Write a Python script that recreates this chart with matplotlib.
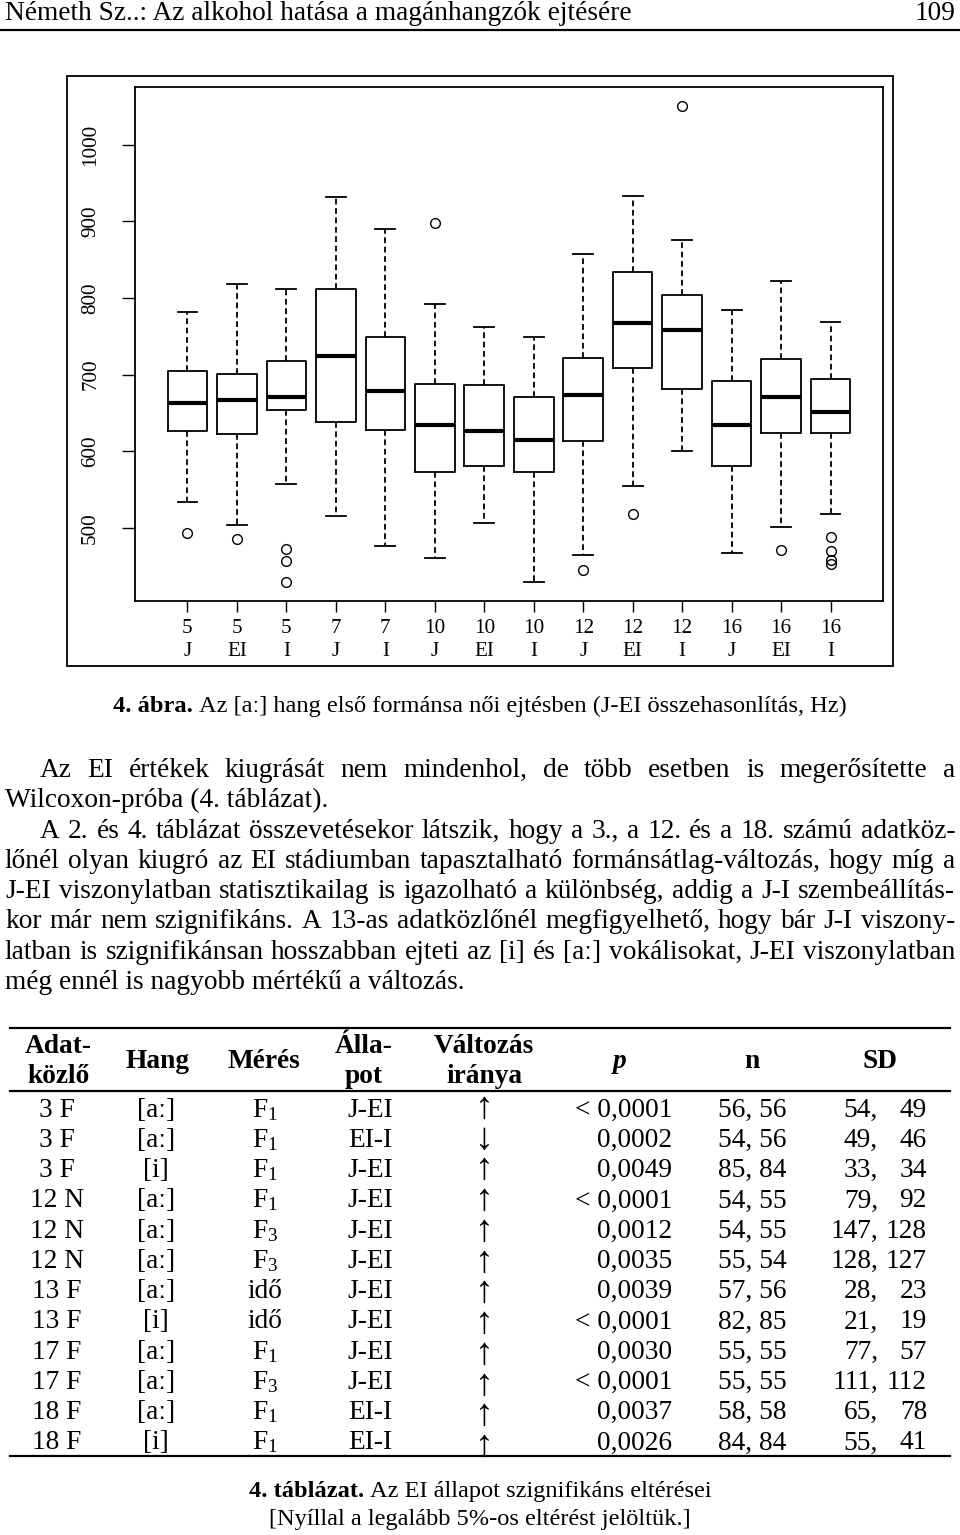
import matplotlib
matplotlib.use("Agg")
import matplotlib.pyplot as plt
from matplotlib.patches import Rectangle
from matplotlib.lines import Line2D
from matplotlib.font_manager import FontProperties

plt.rcParams['font.family'] = ['Liberation Serif', 'DejaVu Serif']
plt.rcParams['mathtext.fontset'] = 'custom'
plt.rcParams['mathtext.rm'] = 'Liberation Serif'
plt.rcParams['mathtext.it'] = 'Liberation Serif:italic'
plt.rcParams['mathtext.bf'] = 'Liberation Serif:bold'

# ---------------- data ----------------
group_numbers = ["5", "5", "5", "7", "7", "10", "10", "10", "12", "12", "12", "16", "16", "16"]
group_states = ["J", "EI", "I", "J", "I", "J", "EI", "I", "J", "EI", "I", "J", "EI", "I"]
whisker_low = [534, 504, 558, 515, 477, 461, 506, 429.5, 465, 555, 601, 467, 501, 518]
q1 = [626.6, 622, 654, 638, 627.5, 573, 581.5, 573, 613.6, 709, 682, 580.5, 623.6, 623.6]
medians = [662.8, 667, 671.5, 724, 679, 634.5, 627, 614.5, 673, 767, 758.5, 634.5, 671.5, 652]
q3 = [704.6, 701, 718, 812, 749, 688, 687, 671.5, 722, 834, 804, 692, 720.6, 695]
whisker_high = [782, 818, 812, 932, 890, 792, 762, 749, 857, 933, 876, 785, 822, 768.5]
outliers = [[493], [485], [473, 457, 430], [], [], [898], [], [], [445], [518], [1051], [],
            [471], [488, 470, 458, 453.5]]
y_ticks = [500, 600, 700, 800, 900, 1000]

header_left = "Németh Sz..: Az alkohol hatása a magánhangzók ejtésére"
header_page = "109"
fig_caption_bold = "4. ábra."
fig_caption_text = "Az [aː] hang első formánsa női ejtésben (J-EI összehasonlítás, Hz)"
para_lines = [
    "Az EI értékek kiugrását nem mindenhol, de több esetben is megerősítette a",
    "Wilcoxon-próba (4. táblázat).",
    "A 2. és 4. táblázat összevetésekor látszik, hogy a 3., a 12. és a 18. számú adatköz-",
    "lőnél olyan kiugró az EI stádiumban tapasztalható formánsátlag-változás, hogy míg a",
    "J-EI viszonylatban statisztikailag is igazolható a különbség, addig a J-I szembeállítás-",
    "kor már nem szignifikáns. A 13-as adatközlőnél megfigyelhető, hogy bár J-I viszony-",
    "latban is szignifikánsan hosszabban ejteti az [i] és [aː] vokálisokat, J-EI viszonylatban",
    "még ennél is nagyobb mértékű a változás.",
]
para_justified = [True, False, True, True, True, True, True, False]
para_indent = [True, False, True, False, False, False, False, False]

table_headers = ["Adat-\nközlő", "Hang", "Mérés", "Álla-\npot", "Változás\niránya", "p", "n", "SD"]
speakers = ["3 F", "3 F", "3 F", "12 N", "12 N", "12 N", "13 F", "13 F", "17 F", "17 F", "18 F", "18 F"]
sounds = ["[aː]", "[aː]", "[i]", "[aː]", "[aː]", "[aː]", "[aː]", "[i]", "[aː]", "[aː]", "[aː]", "[i]"]
measures = [r"$\mathrm{F}_1$", r"$\mathrm{F}_1$", r"$\mathrm{F}_1$", r"$\mathrm{F}_1$", r"$\mathrm{F}_3$",
            r"$\mathrm{F}_3$", "idő", "idő", r"$\mathrm{F}_1$", r"$\mathrm{F}_3$", r"$\mathrm{F}_1$", r"$\mathrm{F}_1$"]
states = ["J-EI", "EI-I", "J-EI", "J-EI", "J-EI", "J-EI", "J-EI", "J-EI", "J-EI", "J-EI", "EI-I", "EI-I"]
directions = ["↑", "↓", "↑", "↑", "↑", "↑", "↑", "↑", "↑", "↑", "↑", "↑"]
p_values = ["< 0,0001", "0,0002", "0,0049", "< 0,0001", "0,0012", "0,0035", "0,0039", "< 0,0001",
            "0,0030", "< 0,0001", "0,0037", "0,0026"]
n_values = ["56, 56", "54, 56", "85, 84", "54, 55", "54, 55", "55, 54", "57, 56", "82, 85",
            "55, 55", "55, 55", "58, 58", "84, 84"]
sd_first = [54, 49, 33, 79, 147, 128, 28, 21, 77, 111, 65, 55]
sd_second = [49, 46, 34, 92, 128, 127, 23, 19, 57, 112, 78, 41]
table_caption_bold = "4. táblázat."
table_caption_text = "Az EI állapot szignifikáns eltérései"
table_note = "[Nyíllal a legalább 5%-os eltérést jelöltük.]"

# ---------------- figure ----------------
W, H, DPI = 960, 1535, 100
fig = plt.figure(figsize=(W / DPI, H / DPI), dpi=DPI)
fig.patch.set_facecolor("white")
renderer = fig.canvas.get_renderer()


def fx(x):
    return x / W


def fy(y):
    return 1 - y / H


def put(x, y, s, size, ha="left", va="baseline", **kw):
    return fig.text(fx(x), fy(y), s, fontsize=size, ha=ha, va=va, **kw)


def width_of(t):
    return t.get_window_extent(renderer=renderer).width


BODY = 19.7
CAP = 17.6
TICK = 15.2
ARROW = 27
ROW0 = 1116.7
ROWSTEP = 30.25

# header
put(5, 20, header_left, BODY)
put(955, 20, header_page, BODY, ha="right")
fig.add_artist(Line2D([0, 1], [fy(29.5)] * 2, transform=fig.transFigure, color="black", lw=1.6))

# outer frame of the chart
fig.add_artist(Rectangle((fx(67), fy(666)), (893 - 67) / W, (666 - 76) / H,
                         transform=fig.transFigure, fill=False, ec="black", lw=1.3))

# boxplot
ax = fig.add_axes([fx(135), fy(601), (883 - 135) / W, (601 - 87) / H])
stats = []
for i in range(len(medians)):
    stats.append(dict(med=medians[i], q1=q1[i], q3=q3[i], whislo=whisker_low[i],
                      whishi=whisker_high[i], fliers=outliers[i]))
positions = list(range(1, len(medians) + 1))
ax.bxp(stats, positions=positions, widths=0.8, capwidths=0.4,
       boxprops=dict(color="black", linewidth=1.3),
       whiskerprops=dict(color="black", linewidth=1.3, linestyle=(0, (3.2, 2.0))),
       capprops=dict(color="black", linewidth=1.3),
       medianprops=dict(color="black", linewidth=3),
       flierprops=dict(marker="o", markerfacecolor="none", markeredgecolor="black",
                       markersize=7, markeredgewidth=1))
ax.set_xlim(-0.06, 15.06)
ax.set_ylim(404.7, 1075.5)
ax.set_yticks(y_ticks)
ax.set_yticklabels([str(v) for v in y_ticks], rotation=90, va="center", fontsize=TICK)
ax.set_xticks(positions)
ax.set_xticklabels([f"{n}\n{s}" for n, s in zip(group_numbers, group_states)], fontsize=TICK,
                   linespacing=1.28)
ax.tick_params(axis="y", length=9.1, width=1, pad=16)
ax.tick_params(axis="x", length=7.7, width=1, pad=5)
for sp in ax.spines.values():
    sp.set_linewidth(1.3)

# figure caption (centered)
tb = put(0, 712, fig_caption_bold, CAP, fontweight="bold")
tn = put(0, 712, fig_caption_text, CAP)
wb, wn = width_of(tb), width_of(tn)
space = CAP * 0.25 * DPI / 72
x0 = 480 - (wb + space + wn) / 2
tb.set_x(fx(x0))
tn.set_x(fx(x0 + wb + space))

# paragraph
for k, line in enumerate(para_lines):
    base = 777 + k * 30.3
    x_start = 40 if para_indent[k] else 5
    if para_justified[k]:
        words = line.split(" ")
        texts = [put(0, base, w, BODY) for w in words]
        widths = [width_of(t) for t in texts]
        gap = (955 - x_start - sum(widths)) / (len(words) - 1)
        x = x_start
        for t, w in zip(texts, widths):
            t.set_x(fx(x))
            x += w + gap
    else:
        put(x_start, base, line, BODY)

# table rules
for yy in (1028, 1090.7, 1456):
    fig.add_artist(Line2D([fx(10), fx(950)], [fy(yy)] * 2, transform=fig.transFigure,
                          color="black", lw=1.6))

# table header
hdr_x = [58, 157, 264, 364, 484, 620, 752, 880]
for hx, htxt in zip(hdr_x, table_headers):
    if "\n" in htxt:
        a, b = htxt.split("\n")
        put(hx, 1053, a, BODY, ha="center", fontweight="bold")
        put(hx, 1083, b, BODY, ha="center", fontweight="bold")
    elif htxt == "p":
        put(hx, 1068, htxt, BODY, ha="center", fontweight="bold", fontstyle="italic")
    else:
        put(hx, 1068, htxt, BODY, ha="center", fontweight="bold")

# table body
for i in range(len(speakers)):
    base = ROW0 + i * ROWSTEP
    put(57, base, speakers[i], BODY, ha="center")
    put(156, base, sounds[i], BODY, ha="center")
    put(265, base, measures[i], BODY, ha="center")
    put(370, base, states[i], BODY, ha="center")
    put(672, base, p_values[i], BODY, ha="right")
    put(752, base, n_values[i], BODY, ha="center")
    put(878, base, f"{sd_first[i]},", BODY, ha="right")
    put(927, base, f"{sd_second[i]}", BODY, ha="right")

# direction arrows: one multi-line text; line pitch tuned to the table rows
arrow_text = "\n".join(directions)
prop = FontProperties(family=['Liberation Serif', 'DejaVu Serif'], size=ARROW)
_, ah, ad = renderer.get_text_width_height_descent("↑", prop, ismath=False)
_, lh, ld = renderer.get_text_width_height_descent("lp", prop, ismath=False)
hh, dd = max(ah, lh), max(ad, ld)
asc = hh - dd
ls = ROWSTEP / hh * 0.979
top = ROW0 + 1 - asc
put(484, top, arrow_text, ARROW, ha="center", va="top",
    multialignment="center", linespacing=ls)

# table caption
tb2 = put(0, 1496.7, table_caption_bold, CAP, fontweight="bold")
tn2 = put(0, 1496.7, table_caption_text, CAP)
wb2, wn2 = width_of(tb2), width_of(tn2)
x0 = 480 - (wb2 + space + wn2) / 2
tb2.set_x(fx(x0))
tn2.set_x(fx(x0 + wb2 + space))
put(480, 1525, table_note, CAP, ha="center")

fig.savefig("out.png", dpi=DPI, facecolor="white")
